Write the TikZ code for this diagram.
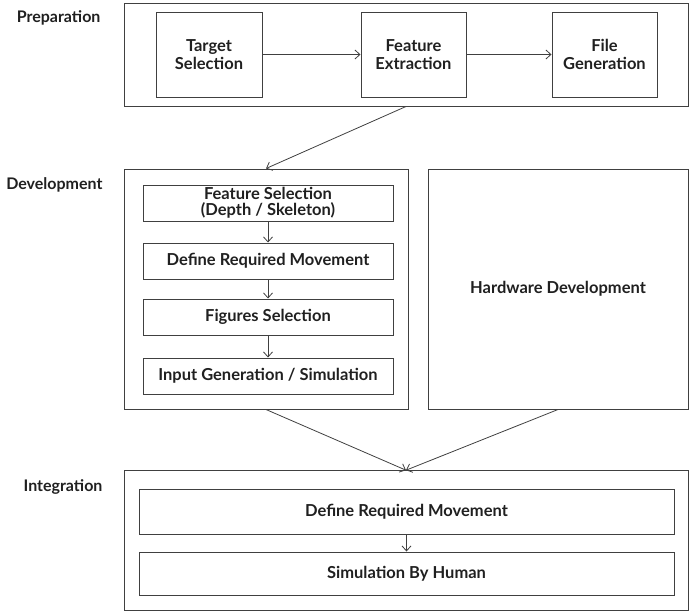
\documentclass[tikz,border=0pt]{standalone}
\usepackage{fontspec}
\setmainfont{Lato}
\usetikzlibrary{arrows.meta,positioning,calc}
\definecolor{ln}{HTML}{404040}
\definecolor{tx}{HTML}{202020}
\begin{document}
\begin{tikzpicture}[x=1pt,y=-1pt,
  box/.style={draw=ln,line width=1pt,inner sep=0pt,align=center,text=tx,
    font=\fontsize{16.5}{18}\selectfont\bfseries},
  lbl/.style={anchor=east,text=tx,font=\fontsize{16}{18}\selectfont\bfseries},
  arr/.style={draw=ln,line width=0.8pt,-{Straight Barb[length=5pt,width=9pt]}}]
\useasboundingbox (0,0) rectangle (689,613);
% Preparation
\node[box,minimum width=564pt,minimum height=103pt] (prep) at (406,54.5) {};
\node[box,minimum width=106pt,minimum height=85pt] (ts) at (209,54.5) {Target\\Selection};
\node[box,minimum width=105pt,minimum height=85pt] (fe) at (413.5,54.5) {Feature\\Extraction};
\node[box,minimum width=105pt,minimum height=85pt] (fg) at (604.5,54.5) {File\\Generation};
\node[lbl] (lprep) at (104,18) {Preparation};
% Development
\node[box,minimum width=284pt,minimum height=240pt] (dev) at (266,289) {};
\node[box,minimum width=260pt,minimum height=240pt] (hw) at (558,289) {Hardware Development};
\node[box,minimum width=250pt,minimum height=36pt,font=\fontsize{16.5}{16}\selectfont\bfseries] (fs) at (268,203) {Feature Selection\\(Depth / Skeleton)};
\node[box,minimum width=250pt,minimum height=36pt] (drm) at (268,261) {Define Required Movement};
\node[box,minimum width=250pt,minimum height=36pt] (figs) at (268,317) {Figures Selection};
\node[box,minimum width=250pt,minimum height=36pt] (ig) at (268,376) {Input Generation / Simulation};
\node[lbl] (ldev) at (106,185) {Development};
% Integration
\node[box,minimum width=564pt,minimum height=140pt] (int) at (406,540.7) {};
\node[box,minimum width=535pt,minimum height=45pt] (drm2) at (406.5,511.5) {Define Required Movement};
\node[box,minimum width=535pt,minimum height=43pt] (sim) at (406.5,573.5) {Simulation By Human};
\node[lbl] (lint) at (106,487) {Integration};
% connectors
\draw[arr] (ts.east) -- (fe.west);
\draw[arr] (fe.east) -- (fg.west);
\draw[arr] (prep.south) -- (dev.north);
\draw[arr] (fs.south) -- (drm.north);
\draw[arr] (drm.south) -- (figs.north);
\draw[arr] (figs.south) -- (ig.north);
\draw[arr] (dev.south) -- (int.north);
\draw[arr] (hw.south) -- (int.north);
\draw[arr] (drm2.south) -- (sim.north);
\end{tikzpicture}
\end{document}
